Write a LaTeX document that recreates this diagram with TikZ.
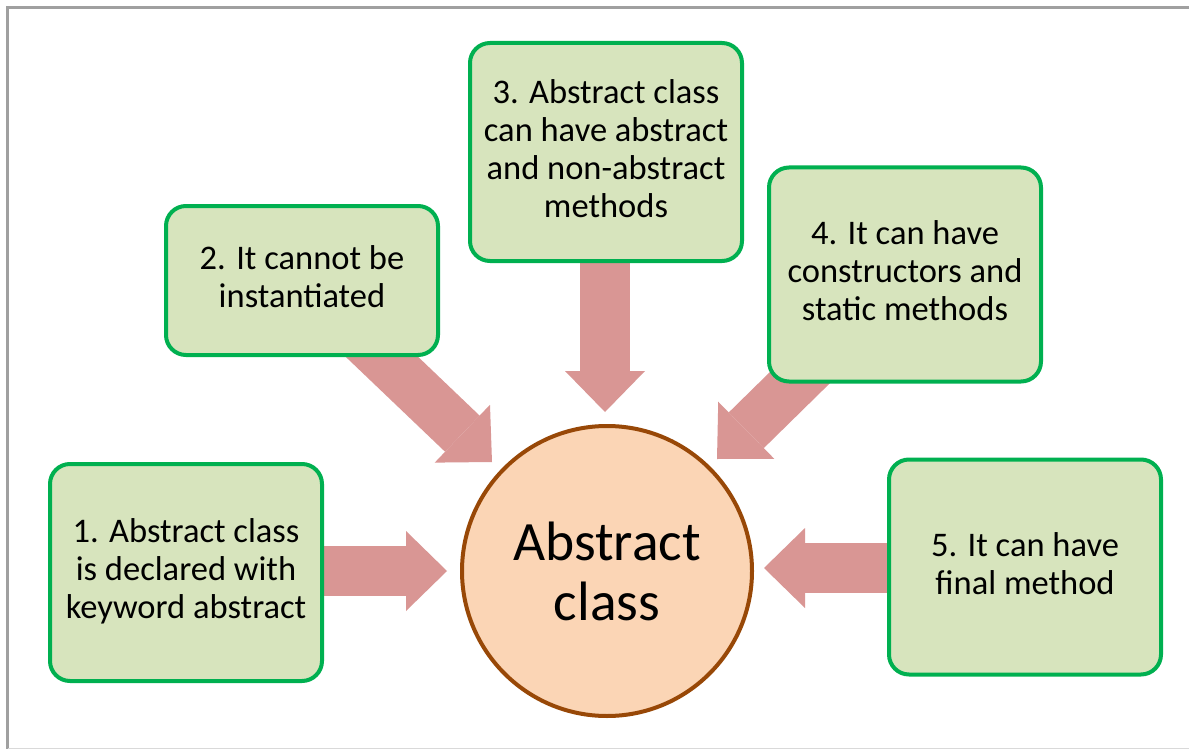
\documentclass[tikz,border=0pt]{standalone}
\usepackage{fontspec}
\setmainfont{Carlito}
\usetikzlibrary{arrows.meta}
\pgfdeclarelayer{bg}
\pgfsetlayers{bg,main}
\definecolor{boxfill}{HTML}{D7E4BD}
\definecolor{boxline}{HTML}{00B050}
\definecolor{circfill}{HTML}{FBD5B5}
\definecolor{circline}{HTML}{984807}
\definecolor{arrowc}{HTML}{D99694}
\definecolor{framec}{HTML}{A0A0A0}
\tikzset{
  infobox/.style={draw=boxline, fill=boxfill, line width=4pt, rounded corners=20pt,
    minimum width=272pt, align=center, inner sep=0pt,
    font=\fontsize{34.5pt}{38pt}\selectfont, text=black,
    execute at end node={\rule[-7pt]{0pt}{1pt}}},
  centre/.style={circle, draw=circline, fill=circfill, line width=4pt,
    minimum size=290pt, inner sep=0pt, align=center,
    font=\fontsize{55.5pt}{60pt}\selectfont, text=black},
  bigarrow/.style={draw=arrowc, line width=50pt,
    -{Triangle[length=41pt,width=80pt,line width=0pt]}},
  framel/.style={draw=framec, line width=2.5pt}
}
\begin{document}
\begin{tikzpicture}[x=1pt,y=-1pt]
\useasboundingbox (0,0) rectangle (1189,749);

\node[centre] (c) at (607,571) {Abstract\\class};
\node[infobox, minimum height=217pt] (b1) at (186,572.5) {1. Abstract class\\is declared with\\keyword abstract};
\node[infobox, minimum height=149pt] (b2) at (302,280.5) {2. It cannot be\\instantiated};
\node[infobox, minimum height=218pt] (b3) at (606,152) {3. Abstract class\\can have abstract\\and non-abstract\\methods};
\node[infobox, minimum height=214pt] (b4) at (905,274.5) {4. It can have\\constructors and\\static methods};
\node[infobox, minimum height=215pt] (b5) at (1025,567) {5. It can have\\final method};

\coordinate (t1) at (447,571);
\coordinate (t2) at (492,462);
\coordinate (t3) at (605,412);
\coordinate (t4) at (717,459);
\coordinate (t5) at (764,568);

\begin{pgfonlayer}{bg}
\fill[white] (0,0) rectangle (1189,749);
\draw[framel] (7.5,749) -- (7.5,7.5) -- (1189,7.5);
\draw[draw=framec!40, line width=1pt] (7.5,748) -- (1189,748);
\draw[bigarrow] (b1.center |- t1) -- (t1);
\draw[bigarrow] (b2.center) -- (t2);
\draw[bigarrow] (b3.center -| t3) -- (t3);
\draw[bigarrow] (b4.center) -- (t4);
\draw[bigarrow] (b5.center |- t5) -- (t5);
\end{pgfonlayer}
\end{tikzpicture}
\end{document}
